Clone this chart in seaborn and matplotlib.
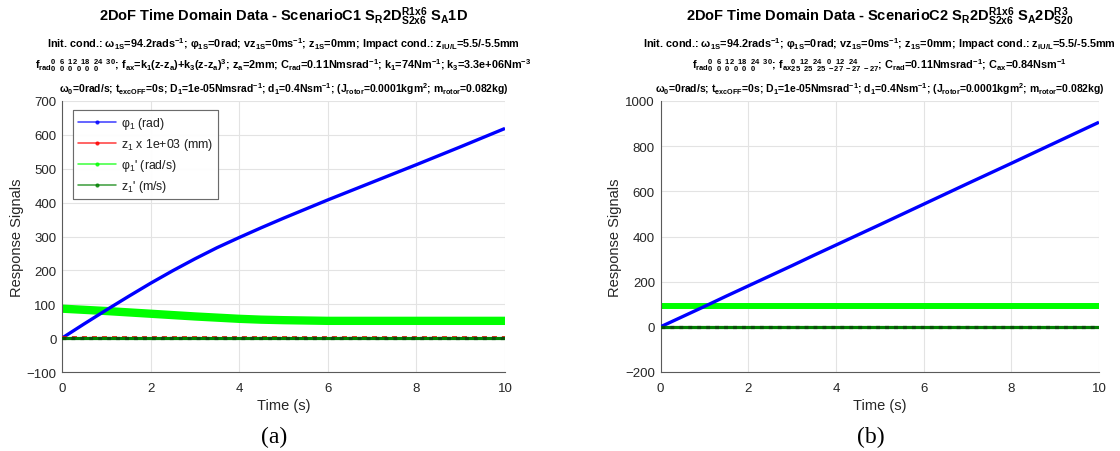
import matplotlib
matplotlib.use("Agg")
import matplotlib.pyplot as plt
from matplotlib.lines import Line2D
import seaborn as sns
import pandas as pd

# ---------------- data ----------------
time_s = [0, 0.5, 1, 1.5, 2, 2.5, 3, 3.5, 4, 4.5, 5, 6, 7, 8, 9, 10]

# Scenario C1 (panel a)
phi_a   = [0, 42, 83, 123, 162, 199, 234, 267, 297, 326, 354, 408, 460, 512, 565, 619]
z_a     = [2, 2, 2, 2, 2, 2, 2, 2, 2, 2, 2, 2, 2, 2, 2, 2]
dphi_a  = [87, 83.5, 80, 76, 72, 68, 64, 60.5, 57, 54.5, 53, 51, 51, 51, 51, 51]
dz_a    = [0, 0, 0, 0, 0, 0, 0, 0, 0, 0, 0, 0, 0, 0, 0, 0]

# Scenario C2 (panel b)
phi_b   = [0, 45, 90, 136, 181, 226, 271, 317, 362, 407, 452, 543, 634, 724, 815, 906]
z_b     = [0.8, 0.8, 0.8, 0.8, 0.8, 0.8, 0.8, 0.8, 0.8, 0.8, 0.8, 0.8, 0.8, 0.8, 0.8, 0.8]
dphi_b  = [91, 91, 91, 91, 91, 91, 91, 91, 91, 91, 91, 91, 91, 91, 91, 91]
dz_b    = [0, 0, 0, 0, 0, 0, 0, 0, 0, 0, 0, 0, 0, 0, 0, 0]

legend_labels = [r"φ$_1$ (rad)", r"z$_1$ x 1e+03 (mm)", r"φ$_1$' (rad/s)", r"z$_1$' (m/s)"]
x_ticks = [0, 2, 4, 6, 8, 10]
y_ticks_a = [-100, 0, 100, 200, 300, 400, 500, 600, 700]
y_ticks_b = [-200, 0, 200, 400, 600, 800, 1000]

titles = [
    r"2DoF Time Domain Data - ScenarioC1 S$_R$2D$^{R1x6}_{S2x6}$ S$_A$1D",
    r"2DoF Time Domain Data - ScenarioC2 S$_R$2D$^{R1x6}_{S2x6}$ S$_A$2D$^{R3}_{S20}$",
]
line1 = (r"Init. cond.: ω$_{1S}$=94.2rads$^{-1}$; φ$_{1S}$=0rad; vz$_{1S}$=0ms$^{-1}$; "
         r"z$_{1S}$=0mm; Impact cond.: z$_{iU/L}$=5.5/-5.5mm")
frad = r"f$_{rad}$$^{0\ \ 6\ \ 12\ \ 18\ \ 24\ \ 30}_{0\ \ 0\ \ 0\ \ 0\ \ 0\ \ 0}$"
line2 = [
    (frad + r"; f$_{ax}$=k$_1$(z-z$_a$)+k$_3$(z-z$_a$)$^3$; "
     r"z$_a$=2mm; C$_{rad}$=0.11Nmsrad$^{-1}$; k$_1$=74Nm$^{-1}$; k$_3$=3.3e+06Nm$^{-3}$"),
    (frad + r"; f$_{ax}$$^{0\ \ 12\ \ 24\ \ \ 0\ \ 12\ \ 24}_{25\ \ 25\ \ 25\ -27\ -27\ -27}$; "
     r"C$_{rad}$=0.11Nmsrad$^{-1}$; C$_{ax}$=0.84Nsm$^{-1}$"),
]
line3 = (r"ω$_0$=0rad/s; t$_{excOFF}$=0s; D$_1$=1e-05Nmsrad$^{-1}$; d$_1$=0.4Nsm$^{-1}$; "
         r"(J$_{rotor}$=0.0001kgm$^2$; m$_{rotor}$=0.082kg)")
panel_tags = ["(a)", "(b)"]

# ---------------- style ----------------
sns.set_theme(style="white")
plt.rcParams["font.family"] = ["Liberation Sans", "DejaVu Sans"]
plt.rcParams["mathtext.fontset"] = "custom"
plt.rcParams["mathtext.rm"] = "Liberation Sans"
plt.rcParams["mathtext.it"] = "Liberation Sans:italic"
plt.rcParams["mathtext.bf"] = "Liberation Sans:bold"
plt.rcParams["mathtext.default"] = "regular"

W, H = 1120, 452
fig = plt.figure(figsize=(W / 100, H / 100), dpi=100)
fig.patch.set_facecolor("white")

axes_px = [(62, 102, 505, 373), (660.5, 102, 1099, 373)]
col_blue, col_red, col_green, col_dgreen = "#0000ff", "#ff0000", "#00ff00", "#008000"
txt_col = "#262626"

panels = [
    (phi_a, z_a, dphi_a, dz_a, (-100, 700), y_ticks_a, 6.0),
    (phi_b, z_b, dphi_b, dz_b, (-200, 1000), y_ticks_b, 4.3),
]

for i, (box, pdata) in enumerate(zip(axes_px, panels)):
    x0, y0, x1, y1 = box
    ax = fig.add_axes([x0 / W, 1 - y1 / H, (x1 - x0) / W, (y1 - y0) / H])
    phi, z, dphi, dz, ylim, yt, glw = pdata

    sns.lineplot(x=time_s, y=dphi, ax=ax, color=col_green, lw=glw, zorder=2,
                 solid_capstyle="butt", solid_joinstyle="round")
    sns.lineplot(x=time_s, y=phi, ax=ax, color=col_blue, lw=2.4, zorder=3,
                 solid_capstyle="butt")
    sns.lineplot(x=time_s, y=z, ax=ax, color=col_red, lw=1.2, zorder=3,
                 linestyle=(0, (3, 3)))
    sns.lineplot(x=time_s, y=dz, ax=ax, color=col_dgreen, lw=2.3, zorder=4)
    sns.lineplot(x=time_s, y=dz, ax=ax, color="#0b4d0b", lw=2.3, zorder=5,
                 linestyle=(0, (1.2, 1.6)))

    ax.set_xlim(0, 10)
    ax.set_ylim(*ylim)
    ax.set_xticks(x_ticks)
    ax.set_yticks(yt)
    ax.grid(True, color="#e3e3e3", lw=0.8)
    ax.set_axisbelow(True)
    for s in ["top", "right"]:
        ax.spines[s].set_visible(False)
    for s in ["left", "bottom"]:
        ax.spines[s].set_color("#5a5a5a")
        ax.spines[s].set_linewidth(0.8)
    ax.tick_params(direction="in", length=3, width=0.8, color="#5a5a5a",
                   labelsize=9.5, labelcolor=txt_col)
    ax.tick_params(axis="x", pad=7)
    ax.tick_params(axis="y", pad=4)
    ax.set_xlabel("Time (s)", fontsize=10.5, color=txt_col, labelpad=3)
    ax.set_ylabel("Response Signals", fontsize=10.5, color=txt_col, labelpad=2)

    handles = [Line2D([], [], color=c, lw=1.1, alpha=0.7, marker=".", markersize=4,
                      markeredgecolor=c, markerfacecolor=c)
               for c in [col_blue, col_red, col_green, col_dgreen]]
    fx = (73 - x0) / (x1 - x0)
    fy = (y1 - 111) / (y1 - y0)
    leg = ax.legend(handles, legend_labels, loc="upper left", bbox_to_anchor=(fx, fy),
                    borderaxespad=0, fontsize=8.8, frameon=True, fancybox=False,
                    handlelength=3.1, handletextpad=0.4, labelspacing=0.42,
                    borderpad=0.4)
    leg.get_frame().set_edgecolor("#5a5a5a")
    leg.get_frame().set_linewidth(0.8)
    for t in leg.get_texts():
        t.set_color(txt_col)

    cxp = (x0 + x1) / 2
    cx = cxp / W
    fig.text(cx, 1 - 17 / H, titles[i], ha="center", va="center", fontsize=10.5,
             fontweight="bold", color="black")
    fig.text(cx, 1 - 44 / H, line1, ha="center", va="center", fontsize=7.8,
             fontweight="bold", color="black")
    fig.text(cx, 1 - 66 / H, line2[i], ha="center", va="center", fontsize=7.8,
             fontweight="bold", color="black")
    fig.text(cx, 1 - 89 / H, line3, ha="center", va="center", fontsize=7.5,
             fontweight="bold", color="black")
    fig.text((cxp - 9) / W, 1 - 437 / H, panel_tags[i], ha="center", va="center",
             fontsize=17, family="Liberation Serif", color="black")

fig.savefig("out.png", dpi=100, facecolor="white")
